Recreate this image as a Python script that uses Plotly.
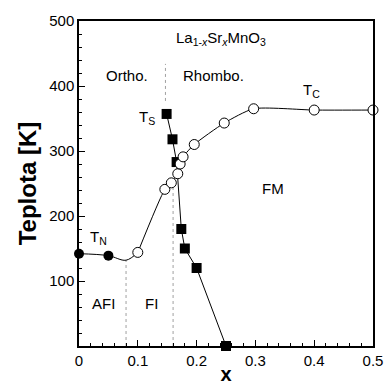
import plotly.graph_objects as go

# Néel temperature T_N (antiferromagnetic insulator)
x_tn = [0.0, 0.05]
t_n = [142, 139]

# guide line of the AFI / FI boundary
x_tn_line = [0.0, 0.05, 0.08, 0.1]
t_n_line = [142, 139, 132, 144]

# Curie temperature T_C
x_tc = [0.1, 0.146, 0.157, 0.168, 0.172, 0.177, 0.196, 0.247, 0.297, 0.4, 0.5]
t_c = [144, 241, 251, 265, 280, 291, 310, 343, 365, 363, 363]

# structural transition T_S (orthorhombic -> rhombohedral)
x_ts = [0.149, 0.159, 0.166, 0.174, 0.18, 0.2, 0.25]
t_s = [357, 318, 283, 180, 150, 120, 0]

# dotted phase boundaries: (x, T_from, T_to)
boundaries = [(0.08, 0, 132), (0.16, 0, 255), (0.147, 377, 434)]

x_ticks = [0, 0.1, 0.2, 0.3, 0.4, 0.5]
x_tick_text = ["0", "0.1", "0.2", "0.3", "0.4", "0.5"]
y_ticks = [100, 200, 300, 400, 500]

FONT = "Liberation Sans, Arial, sans-serif"

fig = go.Figure()

for xb, y0, y1 in boundaries:
    fig.add_trace(go.Scatter(x=[xb, xb], y=[y0, y1], mode="lines",
                             line=dict(color="#a0a0a0", width=1, dash="dot"),
                             hoverinfo="skip"))

fig.add_trace(go.Scatter(x=x_tn_line, y=t_n_line, mode="lines",
                         line=dict(color="black", width=1, shape="spline"),
                         hoverinfo="skip"))
fig.add_trace(go.Scatter(x=x_tc, y=t_c, mode="lines",
                         line=dict(color="black", width=1, shape="spline", smoothing=0.6),
                         hoverinfo="skip"))
fig.add_trace(go.Scatter(x=x_ts, y=t_s, mode="lines+markers", cliponaxis=False,
                         line=dict(color="black", width=1),
                         marker=dict(symbol="square", size=10, color="black")))
fig.add_trace(go.Scatter(x=x_tc, y=t_c, mode="markers", cliponaxis=False,
                         marker=dict(symbol="circle", size=10, color="white",
                                     line=dict(color="black", width=1))))
fig.add_trace(go.Scatter(x=x_tn, y=t_n, mode="markers", cliponaxis=False,
                         marker=dict(symbol="circle", size=10, color="black")))

labels = [
    (0.2415, 473, "La<sub>1-<i>x</i></sub>Sr<sub><i>x</i></sub>MnO<sub>3</sub>"),
    (0.082, 416, "Ortho."),
    (0.228, 416, "Rhombo."),
    (0.116, 352, "T<sub>S</sub>"),
    (0.396, 393, "T<sub>C</sub>"),
    (0.033, 167, "T<sub>N</sub>"),
    (0.33, 242, "FM"),
    (0.042, 66, "AFI"),
    (0.124, 66, "FI"),
]
for lx, ly, txt in labels:
    fig.add_annotation(x=lx, y=ly, text=txt, showarrow=False,
                       font=dict(family=FONT, size=15, color="black"))

axis_common = dict(
    showline=True, linecolor="black", linewidth=1.5, mirror=True,
    ticks="inside", ticklen=6, tickwidth=1, tickcolor="black",
    showgrid=False, zeroline=False, automargin=False,
    tickfont=dict(family=FONT, size=15, color="black"),
)

fig.update_xaxes(range=[0, 0.5], tickvals=x_ticks, ticktext=x_tick_text,
                 minor=dict(ticks="inside", ticklen=3, dtick=0.02, tick0=0,
                            tickcolor="black", showgrid=False),
                 title=dict(text="<b>x</b>", standoff=2,
                            font=dict(family=FONT, size=20, color="black")),
                 **axis_common)
fig.update_yaxes(range=[0, 500], tickvals=y_ticks,
                 minor=dict(ticks="inside", ticklen=3, dtick=20, tick0=0,
                            tickcolor="black", showgrid=False),
                 title=dict(text="<b>Teplota [K]</b>", standoff=6,
                            font=dict(family=FONT, size=24, color="black")),
                 **axis_common)

fig.update_layout(
    width=385, height=385,
    margin=dict(l=79, r=12, t=21, b=39),
    paper_bgcolor="white", plot_bgcolor="white",
    showlegend=False,
)

fig.write_html("out.html")
